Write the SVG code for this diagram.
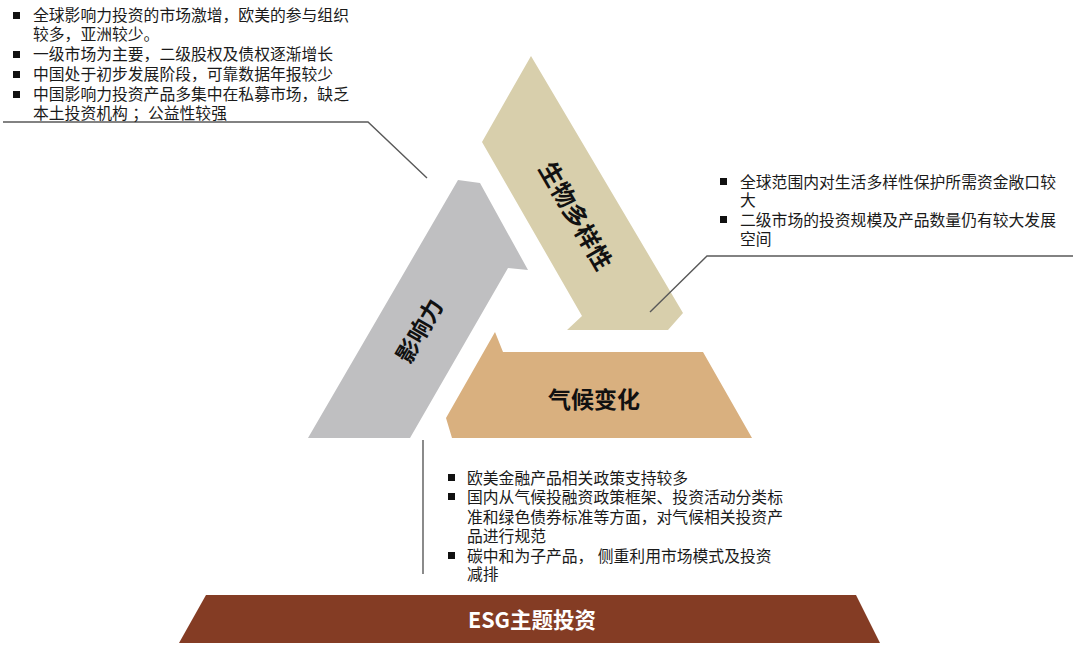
<svg xmlns="http://www.w3.org/2000/svg" width="1080" height="657" viewBox="0 0 1080 657">
<style>
.t{font-family:"Liberation Sans","Noto Sans CJK SC",sans-serif;font-size:15.8px;fill:#1a1a1a}
.lbl{font-family:"Noto Sans CJK SC","Liberation Sans",sans-serif;font-weight:bold;fill:#111}
.b{fill:#111}
.ln{fill:none;stroke:#595959;stroke-width:1.4}
</style>
<rect width="1080" height="657" fill="#fff"/>
<g id="node-influence">
<polygon points="458,180 480,183 528,270 508,268 410,438 308,438" fill="#BFBFC1"/>
<text class="lbl" font-size="23" text-anchor="middle" dominant-baseline="central" transform="translate(418,330) rotate(-60)">影响力</text>
</g>
<g id="node-biodiversity">
<polygon points="531,56 683,313 668,330 567,330 582,316 482,142" fill="#D8CFAC"/>
<text class="lbl" font-size="24" text-anchor="middle" dominant-baseline="central" transform="translate(577,215) rotate(60)">生物多样性</text>
</g>
<g id="node-climate">
<polygon points="495,332 503,352 703,352 752,438 452,438 446,418" fill="#D9B07F"/>
<text class="lbl" font-size="23" text-anchor="middle" x="594" y="408">气候变化</text>
</g>
<g id="node-esg">
<polygon points="206,595 856,595 880,643 179,643" fill="#843C24"/>
<text x="532" y="628" font-family="'Noto Sans CJK SC','Liberation Sans',sans-serif" font-weight="bold" font-size="21.5" fill="#fff" text-anchor="middle">ESG主题投资</text>
</g>
<g id="connectors">
<polyline class="ln" points="3,122 368,122 427,178"/>
<polyline class="ln" points="1073,256 707,256 650,312"/>
<line class="ln" x1="423" y1="440" x2="423" y2="574"/>
</g>
<g id="note-influence">
<rect class="b" x="13" y="12" width="7" height="7"/>
<rect class="b" x="13" y="51" width="7" height="7"/>
<rect class="b" x="13" y="71" width="7" height="7"/>
<rect class="b" x="13" y="91" width="7" height="7"/>
<text class="t"><tspan x="33" y="21">全球影响力投资的市场激增，欧美的参与组织</tspan><tspan x="33" y="40">较多，亚洲较少。</tspan><tspan x="33" y="60">一级市场为主要，二级股权及债权逐渐增长</tspan><tspan x="33" y="80">中国处于初步发展阶段，可靠数据年报较少</tspan><tspan x="33" y="100">中国影响力投资产品多集中在私募市场，缺乏</tspan><tspan x="33" y="119">本土投资机构 ；公益性较强</tspan></text>
</g>
<g id="note-biodiversity">
<rect class="b" x="720" y="178" width="7" height="7"/>
<rect class="b" x="720" y="216" width="7" height="7"/>
<text class="t"><tspan x="740" y="188">全球范围内对生活多样性保护所需资金敞口较</tspan><tspan x="740" y="206">大</tspan><tspan x="740" y="226">二级市场的投资规模及产品数量仍有较大发展</tspan><tspan x="740" y="245">空间</tspan></text>
</g>
<g id="note-climate">
<rect class="b" x="448" y="474" width="7" height="7"/>
<rect class="b" x="448" y="493" width="7" height="7"/>
<rect class="b" x="448" y="552" width="7" height="7"/>
<text class="t"><tspan x="467" y="484">欧美金融产品相关政策支持较多</tspan><tspan x="467" y="503">国内从气候投融资政策框架、投资活动分类标</tspan><tspan x="467" y="523">准和绿色债券标准等方面，对气候相关投资产</tspan><tspan x="467" y="542">品进行规范</tspan><tspan x="467" y="562">碳中和为子产品， 侧重利用市场模式及投资</tspan><tspan x="467" y="580">减排</tspan></text>
</g>
</svg>
